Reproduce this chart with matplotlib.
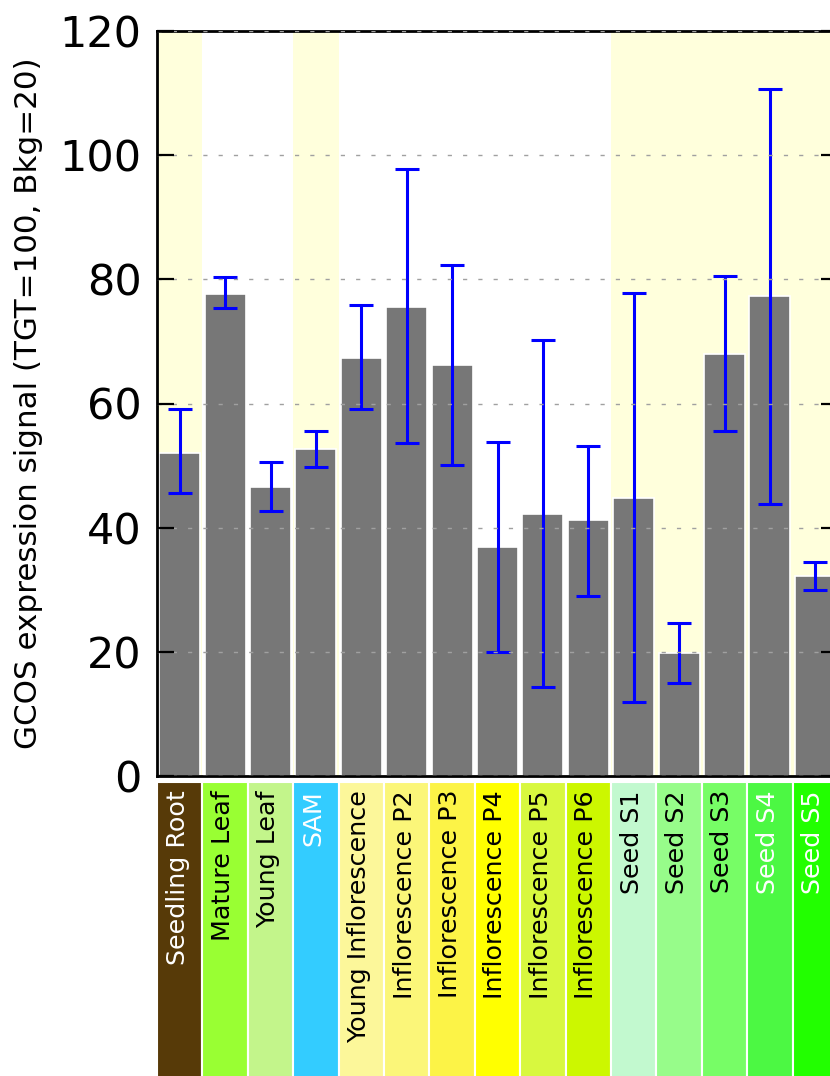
import numpy as np
import matplotlib
matplotlib.use("Agg")
import matplotlib.pyplot as plt
from matplotlib import transforms

# tissue samples, left to right
tissues = [
    "Seedling Root", "Mature Leaf", "Young Leaf", "SAM", "Young Inflorescence",
    "Inflorescence P2", "Inflorescence P3", "Inflorescence P4", "Inflorescence P5",
    "Inflorescence P6", "Seed S1", "Seed S2", "Seed S3", "Seed S4", "Seed S5",
]
signal = [52.1, 77.7, 46.6, 52.6, 67.4, 75.5, 66.2, 36.9, 42.2, 41.2, 44.8, 19.8, 67.9, 77.3, 32.2]
err_high = [59.1, 80.4, 50.6, 55.6, 75.9, 97.8, 82.3, 53.8, 70.2, 53.2, 77.8, 24.7, 80.5, 110.7, 34.4]
err_low = [45.6, 75.4, 42.7, 49.8, 59.1, 53.7, 50.1, 20.0, 14.3, 29.0, 11.9, 15.0, 55.6, 43.8, 29.9]
yticks = [0, 20, 40, 60, 80, 100, 120]

# samples with shaded background
highlight = [0, 3, 10, 11, 12, 13, 14]

box_colors = [
    "#573a08", "#99ff33", "#c3f58b", "#33ccff", "#fcf79a",
    "#fbf679", "#fcf347", "#ffff00", "#d8f83f", "#ccf700",
    "#c2f9cf", "#97fc8a", "#77fd66", "#4cf843", "#22ff00",
]
text_colors = [
    "white", "black", "black", "white", "black",
    "black", "black", "black", "black", "black",
    "black", "black", "black", "white", "white",
]

W, H = 830, 1076
fig = plt.figure(figsize=(W / 100, H / 100), dpi=100)

left, right = 157, 838
ax = fig.add_axes([left / W, 1 - 776 / H, (right - left) / W, (776 - 31) / H])
x = np.arange(len(tissues))

for i in highlight:
    ax.axvspan(i - 0.5, i + 0.5, color="#ffffdc", lw=0, zorder=0)

ax.bar(x, signal, width=0.9, color="#777777", edgecolor="white", linewidth=1.2, zorder=1)
yerr = [np.subtract(signal, err_low), np.subtract(err_high, signal)]
ax.errorbar(x, signal, yerr=yerr, fmt="none", ecolor="#0000ff",
            elinewidth=2.2, capsize=8.4, capthick=2.2, zorder=2)

ax.set_xlim(-0.5, len(tissues) - 0.5)
ax.set_ylim(0, 120)
ax.set_yticks(yticks)
ax.set_xticks([])
ax.tick_params(axis="y", direction="in", length=12, width=1.6,
               labelsize=31, pad=11, right=True)
ax.grid(axis="y", color="#a0a0a0", linestyle=(0, (3, 8)), linewidth=1.0)
ax.set_axisbelow(False)
for s in ax.spines.values():
    s.set_linewidth(2.0)

ax.set_ylabel("GCOS expression signal (TGT=100, Bkg=20)", fontsize=22.3)
ax.yaxis.set_label_coords((43 - left) / (right - left), 0.5)

# coloured label boxes under the bars
ax2 = fig.add_axes([left / W, -0.01, (right - left) / W, (1 - 782 / H) + 0.01])
ax2.bar(x, np.ones(len(tissues)), width=1.0, color=box_colors,
        edgecolor="white", linewidth=1.5)
ax2.set_xlim(-0.5, len(tissues) - 0.5)
ax2.set_ylim(0, 1)
ax2.axis("off")

trans = transforms.blended_transform_factory(ax2.transData, fig.transFigure)
for i, name in enumerate(tissues):
    ax2.text(x[i] - 0.045, 1 - 790 / H, name, rotation=90, ha="center", va="top",
             fontsize=18.3, color=text_colors[i], transform=trans)

fig.savefig("out.png", dpi=100)
